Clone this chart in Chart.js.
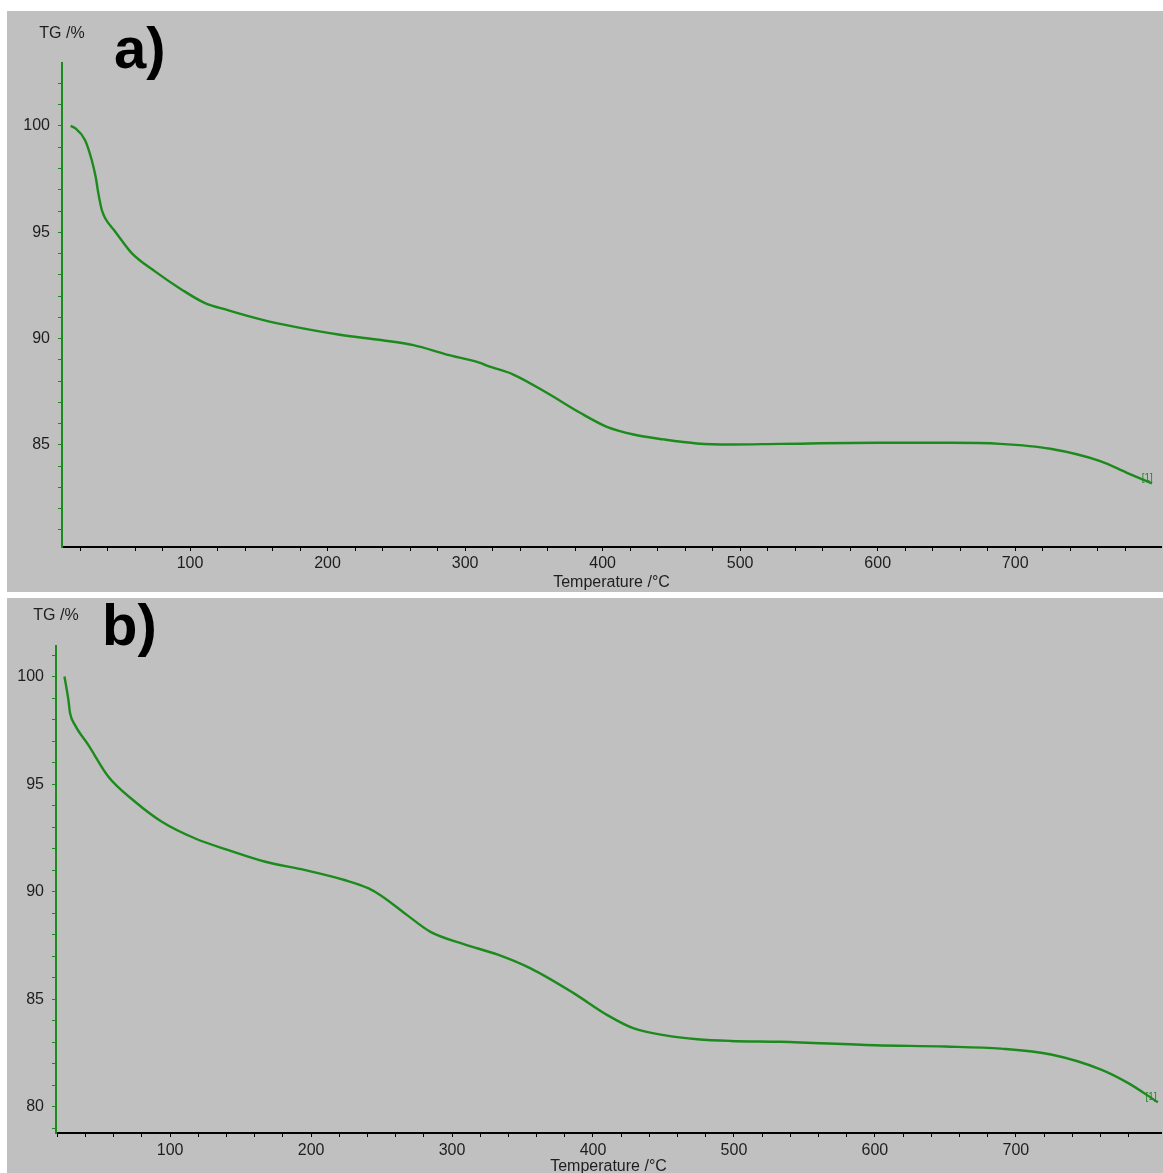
<!DOCTYPE html>
<html>
<head>
<meta charset="utf-8">
<script src="https://cdn.jsdelivr.net/npm/chart.js@4.4.1/dist/chart.umd.min.js"></script>
<style>
  body { margin: 0; background: #fff; }
  .panel { position: absolute; left: 7px; width: 1156px; background: #c0c0c0; }
  #pa { top: 11px; height: 581px; }
  #pb { top: 598px; height: 575px; }
  canvas { display: block; }
</style>
</head>
<body>
<div class="panel" id="pa"><canvas id="chartA" width="1156" height="581"></canvas></div>
<div class="panel" id="pb"><canvas id="chartB" width="1156" height="575"></canvas></div>
<script>
// panel a) TG curve
const tempA = [13.2, 16.4, 23.6, 28.5, 31.4, 33.3, 35.8, 38.2, 45.5, 57.6, 74.5, 94, 110.9, 127.9, 152.1, 176.4, 207.9, 240,
  262.4, 286.7, 310.9, 315.8, 335.1, 359.4, 383.6, 403.1, 422.4, 444.2, 468.5, 492.7, 529, 600, 653, 689, 725.5, 761.8, 781.2, 799.4];
const tgA = [100.0, 99.9, 99.34, 98.4, 97.6, 96.84, 96.06, 95.67, 95.04, 94.02, 93.16, 92.3, 91.67, 91.33, 90.89, 90.55, 90.19, 89.92,
  89.69, 89.25, 88.86, 88.73, 88.31, 87.45, 86.51, 85.85, 85.49, 85.26, 85.07, 85.02, 85.05, 85.1, 85.1, 85.05, 84.82, 84.24, 83.69, 83.19];

// panel b)
const tempB = [25, 27.8, 29, 32.5, 42, 56.2, 75.1, 94.1, 117.8, 141.4, 167.5, 195.9, 224.3, 240.8, 250, 268.1, 284.7, 308.3,
  332, 355.7, 386.5, 410.2, 429, 450.4, 474.1, 497.7, 533.2, 600, 650, 689.5, 725, 760.5, 779.5, 800.8];
const tgB = [100, 98.91, 98.29, 97.74, 96.81, 95.34, 94.18, 93.25, 92.47, 91.93, 91.39, 91.0, 90.53, 90.15, 89.8, 88.91, 88.13, 87.56,
  87.08, 86.43, 85.27, 84.26, 83.64, 83.33, 83.14, 83.06, 83.02, 82.86, 82.8, 82.7, 82.43, 81.73, 81.11, 80.21];

const xLabels = [100, 200, 300, 400, 500, 600, 700];
const yLabelsA = [85, 90, 95, 100];
const yLabelsB = [80, 85, 90, 95, 100];

const green = '#1c8a1c';
const txt = '#1e1e1e';
const font = 'Arial, "Liberation Sans", sans-serif';

const extras = {
  id: 'extras',
  afterDraw(chart, args, o) {
    const { ctx, chartArea, scales } = chart;
    ctx.save();
    ctx.fillStyle = txt;
    ctx.font = '16px ' + font;
    ctx.textAlign = 'center';
    ctx.textBaseline = 'middle';
    ctx.fillText('TG /%', chartArea.left, chartArea.top - o.titleGap);

    ctx.fillStyle = '#000';
    ctx.font = 'bold 58px ' + font;
    ctx.textAlign = 'left';
    ctx.textBaseline = 'alphabetic';
    ctx.fillText(o.letter, o.letterX, o.letterY);

    ctx.fillStyle = green;
    ctx.font = '10px ' + font;
    ctx.textAlign = 'center';
    ctx.textBaseline = 'middle';
    ctx.fillText('[1]', scales.x.getPixelForValue(o.markX), scales.y.getPixelForValue(o.markY));
    ctx.restore();
  }
};

function makeChart(id, temps, tgs, cfg) {
  new Chart(document.getElementById(id), {
    type: 'line',
    data: {
      datasets: [{
        data: temps.map((t, i) => ({ x: t, y: tgs[i] })),
        borderColor: green,
        borderWidth: 2.4,
        pointRadius: 0,
        cubicInterpolationMode: 'monotone',
        fill: false
      }]
    },
    options: {
      responsive: false,
      animation: false,
      events: [],
      layout: { padding: { top: cfg.top, right: 2, left: 0, bottom: 0 } },
      scales: {
        x: {
          type: 'linear',
          min: cfg.xMin,
          max: cfg.xMax,
          afterFit: s => { s.height = cfg.xHeight; },
          border: { color: '#000', width: 2 },
          grid: {
            drawOnChartArea: false,
            tickLength: 4,
            tickColor: c => (c.tick && c.tick.value >= 800) ? 'rgba(0,0,0,0)' : '#000'
          },
          ticks: {
            stepSize: 20,
            includeBounds: false,
            autoSkip: false,
            maxRotation: 0,
            padding: cfg.tickPad,
            color: txt,
            font: { size: 16, family: font },
            callback: v => xLabels.includes(v) ? String(v) : ''
          },
          title: {
            display: true,
            text: 'Temperature /°C',
            color: txt,
            font: { size: 16, family: font },
            padding: { top: 0, bottom: cfg.titleBottom }
          }
        },
        y: {
          type: 'linear',
          min: cfg.yMin,
          max: cfg.yMax,
          afterFit: s => { s.width = cfg.yWidth; },
          border: { color: green, width: 2 },
          grid: { drawOnChartArea: false, tickLength: 4, tickColor: green },
          ticks: {
            stepSize: 1,
            includeBounds: false,
            autoSkip: false,
            padding: 8,
            color: txt,
            font: { size: 16, family: font },
            callback: v => cfg.yLabels.includes(v) ? String(v) : ''
          }
        }
      },
      plugins: {
        legend: { display: false },
        tooltip: { enabled: false },
        extras: cfg.extras
      }
    },
    plugins: [extras]
  });
}

makeChart('chartA', tempA, tgA, {
  xMin: 6.9, xMax: 806, yMin: 80.2, yMax: 102.96,
  top: 52, yWidth: 55, xHeight: 45, titleBottom: 0, tickPad: 3,
  yLabels: yLabelsA,
  extras: { titleGap: 29, letter: 'a)', letterX: 107, letterY: 57, markX: 796, markY: 83.45 }
});

makeChart('chartB', tempB, tgB, {
  xMin: 19.0, xMax: 803, yMin: 78.78, yMax: 101.42,
  top: 48, yWidth: 49, xHeight: 40, titleBottom: -3, tickPad: 4,
  yLabels: yLabelsB,
  extras: { titleGap: 30, letter: 'b)', letterX: 95, letterY: 47, markX: 796, markY: 80.45 }
});
</script>
</body>
</html>
